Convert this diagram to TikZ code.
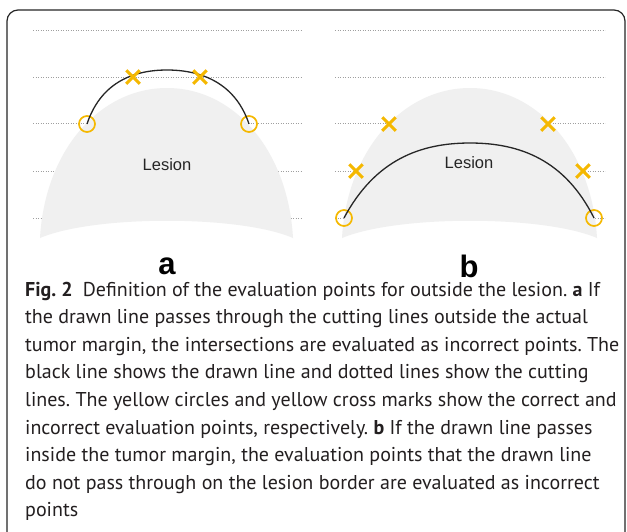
\documentclass[tikz,border=0pt]{standalone}
\usepackage{fontspec}
\usetikzlibrary{shapes.misc}
\newfontfamily\capfont{PT Sans}
\newfontfamily\lesfont{Liberation Sans}
\definecolor{yel}{RGB}{245,184,0}
\definecolor{lesgray}{RGB}{240,240,240}
\definecolor{captxt}{RGB}{35,31,32}
\tikzset{
  cutline/.style={draw=gray!75, line width=0.8pt, dash pattern=on 1.2pt off 1.3pt},
  drawnline/.style={draw=black!85, line width=1.3pt},
  okpt/.style={circle, draw=yel, line width=1.7pt, minimum size=16pt, inner sep=0pt},
  badpt/.style={cross out, draw=yel, line width=3pt, minimum size=10.5pt, inner sep=0pt},
  lestext/.style={font=\lesfont\fontsize{16.5}{18}\selectfont, text=black!85},
  panellabel/.style={font=\lesfont\bfseries\fontsize{31}{32}\selectfont},
  capline/.style={anchor=base west, inner sep=0pt, text=captxt, font=\capfont\fontsize{20}{24}\selectfont}
}
\frenchspacing
\begin{document}
\begin{tikzpicture}[x=1pt,y=-1pt]
\useasboundingbox (0,0) rectangle (627,531);
\fill[white] (0,0) rectangle (627,531);
\begin{scope}
\clip (0,0) rectangle (627,531);
\draw[line width=1.2pt, black!85, rounded corners=11pt] (7,10) rectangle (625,545);
\end{scope}
% ---------- panel a ----------
\foreach \yy in {30,77,123,171,218} \draw[cutline] (33,\yy) -- (302,\yy);
\fill[lesgray] (40,238) .. controls (45,150) and (100,88) .. (167,88)
  .. controls (234,88) and (288,150) .. (293,238)
  .. controls (240,215) and (94,215) .. (40,238) -- cycle;
\node[lestext] (lesa) at (167,165) {Lesion};
\node[okpt] (oa1) at (87,124) {};
\node[okpt] (oa2) at (249,124) {};
\draw[drawnline] (oa1.center) .. controls (100,85) and (130,70) .. (167,70)
  .. controls (204,70) and (236,85) .. (oa2.center);
\node[badpt] (xa1) at (133,77) {};
\node[badpt] (xa2) at (200,77) {};
\node[panellabel] (la) at (167,266) {a};
% ---------- panel b ----------
\foreach \yy in {30,77,123,171,218} \draw[cutline] (335,\yy) -- (605,\yy);
\fill[lesgray] (342,238) .. controls (347,150) and (403,88) .. (470,88)
  .. controls (537,88) and (592,150) .. (597,238)
  .. controls (543,215) and (397,215) .. (342,238) -- cycle;
\node[lestext] (lesb) at (469,163) {Lesion};
\node[okpt] (ob1) at (344,218) {};
\node[okpt] (ob2) at (594,218) {};
\draw[drawnline] (ob1.center) .. controls (375,160) and (420,143) .. (470,143)
  .. controls (520,143) and (565,160) .. (ob2.center);
\node[badpt] (xb1) at (389,124) {};
\node[badpt] (xb2) at (548,124) {};
\node[badpt] (xb3) at (356,171) {};
\node[badpt] (xb4) at (583,171) {};
\node[panellabel] (lb) at (469,266) {b};
% ---------- caption ----------
\node[capline] (c1) at (25,296.0) {\textbf{Fig. 2}\hspace{0.5em}Definition of the evaluation points for outside the lesion. \textbf{a} If};
\node[capline] (c2) at (25,323.6) {the drawn line passes through the cutting lines outside the actual};
\node[capline] (c3) at (25,351.2) {tumor margin, the intersections are evaluated as incorrect points. The};
\node[capline] (c4) at (25,378.8) {black line shows the drawn line and dotted lines show the cutting};
\node[capline] (c5) at (25,406.4) {lines. The yellow circles and yellow cross marks show the correct and};
\node[capline] (c6) at (25,434.0) {incorrect evaluation points, respectively. \textbf{b} If the drawn line passes};
\node[capline] (c7) at (25,461.6) {inside the tumor margin, the evaluation points that the drawn line};
\node[capline] (c8) at (25,489.2) {do not pass through on the lesion border are evaluated as incorrect};
\node[capline] (c9) at (25,516.8) {points};
\end{tikzpicture}
\end{document}
